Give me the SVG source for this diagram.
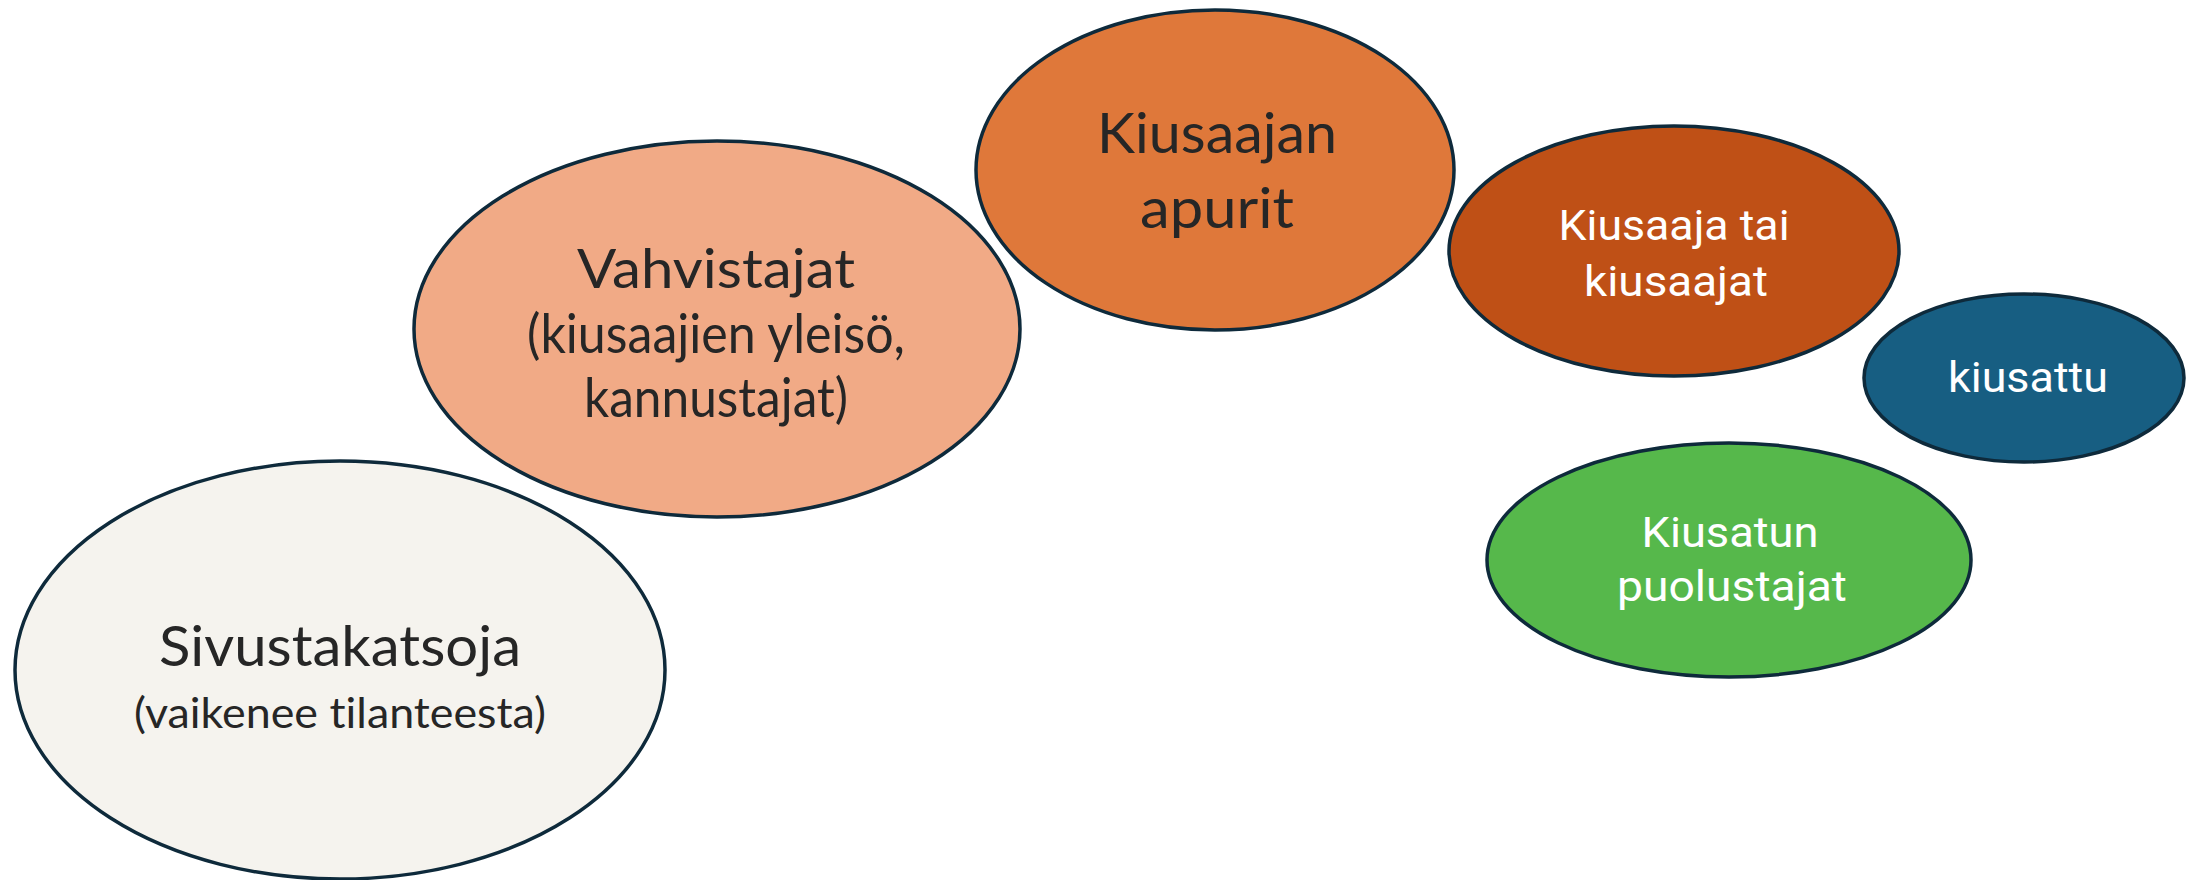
<svg xmlns="http://www.w3.org/2000/svg" width="2187" height="880" viewBox="0 0 2187 880">
<style>
.n{stroke:#0E2A3B;stroke-width:3.5}
.d{font-family:Lato,"Open Sans","Liberation Sans",sans-serif;fill:#262626;text-anchor:middle;font-variant-ligatures:none;font-feature-settings:"liga" 0}
.w{font-family:Roboto,"Liberation Sans",sans-serif;fill:#FFFFFF;text-anchor:middle;font-variant-ligatures:none}
</style>
<rect width="2187" height="880" fill="#FFFFFF"/>
<g id="connectors"/>
<g id="sivustakatsoja">
<ellipse class="n" cx="340" cy="670" rx="325" ry="209" fill="#F5F3EE"/>
<text class="d" x="340" y="666" font-size="57" textLength="362" lengthAdjust="spacingAndGlyphs">Sivustakatsoja</text>
<text class="d" x="340" y="728" font-size="42" textLength="412" lengthAdjust="spacingAndGlyphs">(vaikenee tilanteesta)</text>
</g>
<g id="vahvistajat">
<ellipse class="n" cx="717" cy="329" rx="303" ry="188" fill="#F1AA86"/>
<text class="d" x="716" y="288" font-size="55" textLength="278" lengthAdjust="spacingAndGlyphs">Vahvistajat</text>
<text class="d" x="716" y="353" font-size="55" textLength="378" lengthAdjust="spacingAndGlyphs">(kiusaajien yleisö,</text>
<text class="d" x="716" y="417" font-size="55" textLength="264" lengthAdjust="spacingAndGlyphs">kannustajat)</text>
</g>
<g id="apurit">
<ellipse class="n" cx="1215" cy="170" rx="239" ry="160" fill="#DF783A"/>
<text class="d" x="1217" y="153" font-size="57" textLength="240" lengthAdjust="spacingAndGlyphs">Kiusaajan</text>
<text class="d" x="1217" y="228" font-size="57" textLength="154" lengthAdjust="spacingAndGlyphs">apurit</text>
</g>
<g id="kiusaaja">
<ellipse class="n" cx="1674" cy="251" rx="225" ry="125" fill="#BF5016"/>
<text class="w" x="1674" y="240" font-size="42" textLength="231" lengthAdjust="spacingAndGlyphs">Kiusaaja tai</text>
<text class="w" x="1676" y="296" font-size="42" textLength="184" lengthAdjust="spacingAndGlyphs">kiusaajat</text>
</g>
<g id="kiusattu">
<ellipse class="n" cx="2024" cy="378" rx="160" ry="84" fill="#175E82"/>
<text class="w" x="2028" y="392" font-size="42" textLength="160" lengthAdjust="spacingAndGlyphs">kiusattu</text>
</g>
<g id="puolustajat">
<ellipse class="n" cx="1729" cy="560" rx="242" ry="117" fill="#56B84B"/>
<text class="w" x="1730" y="547" font-size="42" textLength="177" lengthAdjust="spacingAndGlyphs">Kiusatun</text>
<text class="w" x="1732" y="601" font-size="42" textLength="230" lengthAdjust="spacingAndGlyphs">puolustajat</text>
</g>
</svg>
